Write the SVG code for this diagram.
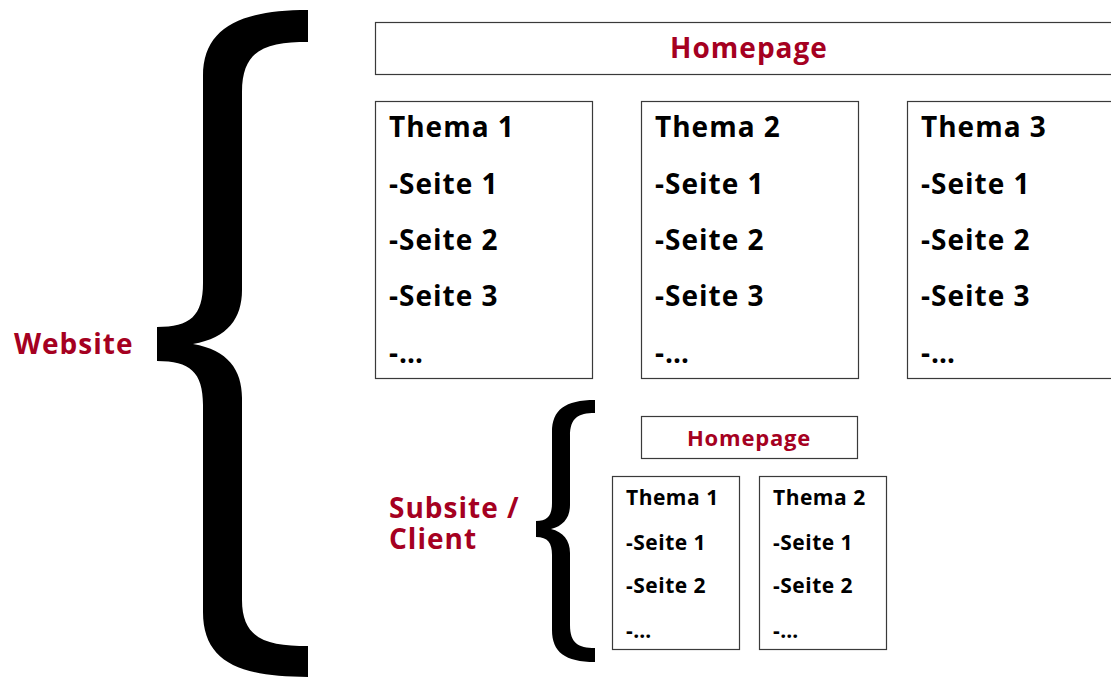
<svg xmlns="http://www.w3.org/2000/svg" width="1111" height="678" viewBox="0 0 1111 678">
<style>
.box{fill:#fff;stroke:#3a3a3a;stroke-width:1.2}
.t{font-family:"Open Sans","Noto Sans",sans-serif;font-weight:bold;fill:#000}
.big{font-size:28px;letter-spacing:1px}
.sm{font-size:21px;letter-spacing:0.5px}
.smh{font-size:22px;letter-spacing:0.8px}
.red{fill:#a50021}
.brace{fill:#000}
</style>
<rect width="1111" height="678" fill="#fff"/>
<g id="website-brace"><path class="brace" d="M308,10 L308,42 C268,42 242,48 242,92 L242,290 C242,318 228,338 193,344 C228,350 242,370 242,398 L242,600 C242,640 268,646 308,646 L308,677 C240,677 203,662 203,612 L203,405 C203,372 190,361 157,361 L157,327 C190,327 203,316 203,283 L203,76 C203,28 240,10 308,10 Z"/></g>
<g id="website-label"><text class="t big red" x="14" y="354">Website</text></g>
<g id="homepage"><rect class="box" x="375.5" y="22.5" width="740" height="52"/><text class="t big red" x="749" y="58" text-anchor="middle">Homepage</text></g>
<g id="thema1"><rect class="box" x="375.5" y="101.5" width="217" height="277"/>
<text class="t big" x="389" y="137">Thema 1</text><text class="t big" x="389" y="194">-Seite 1</text><text class="t big" x="389" y="250">-Seite 2</text><text class="t big" x="389" y="306">-Seite 3</text><text class="t big" x="389" y="363">-…</text></g>
<g id="thema2"><rect class="box" x="641.5" y="101.5" width="217" height="277"/>
<text class="t big" x="655" y="137">Thema 2</text><text class="t big" x="655" y="194">-Seite 1</text><text class="t big" x="655" y="250">-Seite 2</text><text class="t big" x="655" y="306">-Seite 3</text><text class="t big" x="655" y="363">-…</text></g>
<g id="thema3"><rect class="box" x="907.5" y="101.5" width="217" height="277"/>
<text class="t big" x="921" y="137">Thema 3</text><text class="t big" x="921" y="194">-Seite 1</text><text class="t big" x="921" y="250">-Seite 2</text><text class="t big" x="921" y="306">-Seite 3</text><text class="t big" x="921" y="363">-…</text></g>
<g id="subsite-brace"><path class="brace" d="M595,400 L595,413 C578,413 570,418 570,436 L570,505 C570,518 563,526 551,529 C563,532 570,540 570,553 L570,625 C570,643 578,648 595,648 L595,662 C565,662 552,652 552,630 L552,555 C552,543 548,537 536,537 L536,521 C548,521 552,515 552,503 L552,432 C552,410 565,400 595,400 Z"/></g>
<g id="subsite-label"><text class="t big red" x="389" y="518">Subsite /<tspan x="389" y="549">Client</tspan></text></g>
<g id="sub-homepage"><rect class="box" x="641.5" y="416.5" width="216" height="42"/><text class="t smh red" x="749" y="446" text-anchor="middle">Homepage</text></g>
<g id="sub-thema1"><rect class="box" x="612.5" y="476.5" width="127" height="173"/>
<text class="t sm" x="626" y="505">Thema 1</text><text class="t sm" x="626" y="550">-Seite 1</text><text class="t sm" x="626" y="593">-Seite 2</text><text class="t sm" x="626" y="638">-…</text></g>
<g id="sub-thema2"><rect class="box" x="759.5" y="476.5" width="127" height="173"/>
<text class="t sm" x="773" y="505">Thema 2</text><text class="t sm" x="773" y="550">-Seite 1</text><text class="t sm" x="773" y="593">-Seite 2</text><text class="t sm" x="773" y="638">-…</text></g>
<g id="connectors"></g>
</svg>
